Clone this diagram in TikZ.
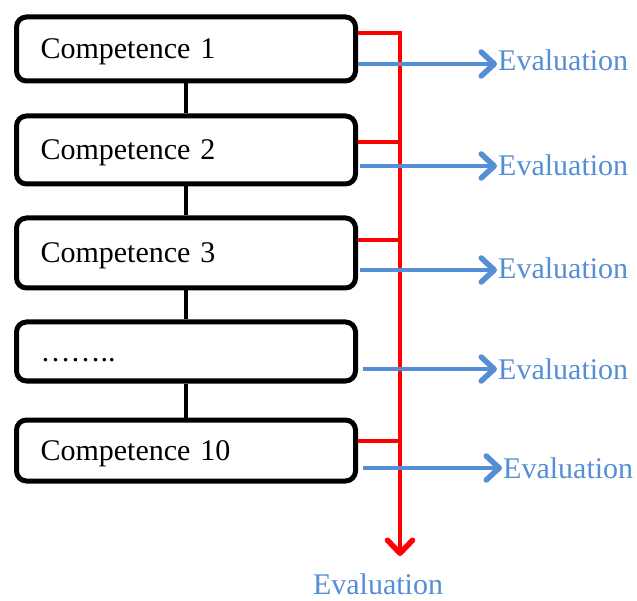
\documentclass[tikz,border=0pt]{standalone}
\usepackage{fontspec}
\setmainfont{Liberation Serif}
\usetikzlibrary{arrows.meta}
\definecolor{evblue}{RGB}{85,142,213}
\definecolor{evred}{RGB}{255,0,0}
\tikzset{
  compbox/.style={draw=black, line width=5pt, rounded corners=10pt, fill=white,
    minimum width=339pt, text width=291pt, inner xsep=24pt, inner ysep=0pt,
    align=left, text height=20pt, text depth=0pt,
    font=\fontsize{30}{36}\selectfont},
  link/.style={draw=black, line width=4.5pt},
  redline/.style={draw=evred, line width=4pt},
  bluearrow/.style={draw=evblue, line width=4.5pt, -{Straight Barb[length=13pt,width=24pt,line width=5.5pt,round]}},
  evlabel/.style={text=evblue, inner sep=0pt, anchor=base west, font=\fontsize{30}{36}\selectfont},
}
\begin{document}
\begin{tikzpicture}[x=1pt, y=-1pt]
\useasboundingbox (0,0) rectangle (637,601);
% boxes
\node[compbox, minimum height=64pt] (c1) at (186,49) {Competence 1};
\node[compbox, minimum height=68pt] (c2) at (186,150) {Competence 2};
\node[compbox, minimum height=70pt] (c3) at (186,253) {Competence 3};
\node[compbox, minimum height=59pt] (c4) at (186,351.5) {……..};
\node[compbox, minimum height=61pt] (c5) at (186,450.5) {Competence 10};
% black links
\draw[link] (c1.south) -- (c2.north);
\draw[link] (c2.south) -- (c3.north);
\draw[link] (c3.south) -- (c4.north);
\draw[link] (c4.south) -- (c5.north);
% red bus
\coordinate (rtop) at (400,33);
\coordinate (r2) at (400,142);
\coordinate (r3) at (400,240);
\coordinate (r5) at (400,441);
\coordinate (rend) at (400,556);
\node[evlabel, anchor=base] (evb) at (378,594) {Evaluation};
\draw[redline] (358,33) -- (rtop);
\draw[redline] (358,142) -- (r2);
\draw[redline] (358,240) -- (r3);
\draw[redline] (358,441) -- (r5);
\draw[redline, -{Straight Barb[length=13pt,width=25pt,line width=5.5pt,round]}] ([yshift=2pt]rtop) -- (rend);
% blue arrows and labels
\node[evlabel] (e1) at (498,71) {Evaluation};
\node[evlabel] (e2) at (498,176) {Evaluation};
\node[evlabel] (e3) at (498,279) {Evaluation};
\node[evlabel] (e4) at (498,379) {Evaluation};
\node[evlabel] (e5) at (503,478) {Evaluation};
\draw[bluearrow] (358,64) -- ([xshift=-1pt]e1.west |- 0,64);
\draw[bluearrow] (360,166) -- ([xshift=-1pt]e2.west |- 0,166);
\draw[bluearrow] (360,270) -- ([xshift=-1pt]e3.west |- 0,270);
\draw[bluearrow] (363,369) -- ([xshift=-1pt]e4.west |- 0,369);
\draw[bluearrow] (363,468) -- ([xshift=-1pt]e5.west |- 0,468);
\end{tikzpicture}
\end{document}
